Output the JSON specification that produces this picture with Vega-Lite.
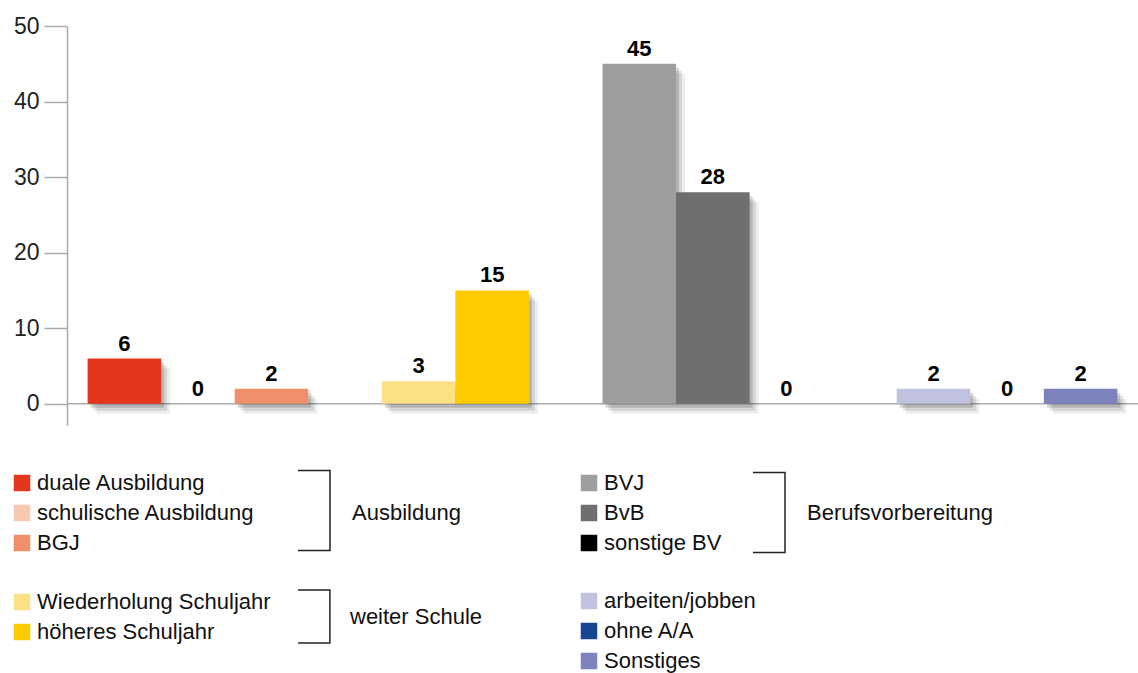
{
  "$schema": "https://vega.github.io/schema/vega-lite/v6.json",
  "width": 1071,
  "height": 399,
  "autosize": "none",
  "padding": {"left": 67, "top": 26, "right": 0, "bottom": 248},
  "background": "white",
  "config": {
    "view": {"stroke": null},
    "font": "Liberation Sans",
    "legend": {
      "orient": "none",
      "padding": 0,
      "symbolType": "square",
      "symbolSize": 272,
      "symbolStrokeWidth": 0,
      "labelFontSize": 22,
      "labelColor": "#111111",
      "labelFont": "Liberation Sans",
      "labelOffset": 4,
      "rowPadding": 8,
      "titleFontSize": 22,
      "titleFontWeight": "normal",
      "titleColor": "#111111",
      "titleFont": "Liberation Sans",
      "titleOrient": "right",
      "titleAnchor": "middle",
      "titleBaseline": "middle",
      "titleLimit": 400,
      "labelLimit": 400
    }
  },
  "data": {
    "values": [
      {"cat": "duale Ausbildung", "group": "Ausbildung", "value": 6},
      {"cat": "schulische Ausbildung", "group": "Ausbildung", "value": 0},
      {"cat": "BGJ", "group": "Ausbildung", "value": 2},
      {"cat": "Wiederholung Schuljahr", "group": "weiter Schule", "value": 3},
      {"cat": "höheres Schuljahr", "group": "weiter Schule", "value": 15},
      {"cat": "BVJ", "group": "Berufsvorbereitung", "value": 45},
      {"cat": "BvB", "group": "Berufsvorbereitung", "value": 28},
      {"cat": "sonstige BV", "group": "Berufsvorbereitung", "value": 0},
      {"cat": "arbeiten/jobben", "group": "Sonstiges", "value": 2},
      {"cat": "ohne A/A", "group": "Sonstiges", "value": 0},
      {"cat": "Sonstiges", "group": "Sonstiges", "value": 2}
    ]
  },
  "layer": [
    {
      "data": {"values": [{}]},
      "mark": {"type": "rule", "color": "#ababab", "strokeWidth": 1.5},
      "encoding": {"y": {"datum": 0, "type": "quantitative", "scale": {"domain": [-2.8, 50], "nice": false, "zero": false}}}
    },
    {
      "mark": {"type": "bar", "color": "#000000", "opacity": 0.15, "xOffset": 3, "x2Offset": 3, "yOffset": 4, "y2Offset": 4},
      "encoding": {
        "x": {"field": "cat", "type": "nominal", "sort": null, "axis": null, "scale": {"domain": ["duale Ausbildung", "schulische Ausbildung", "BGJ", " ", "Wiederholung Schuljahr", "höheres Schuljahr", "  ", "BVJ", "BvB", "sonstige BV", "   ", "arbeiten/jobben", "ohne A/A", "Sonstiges"], "paddingInner": 0, "paddingOuter": 0.28}},
        "y": {"field": "value", "type": "quantitative"},
        "y2": {"datum": 0}
      }
    },
    {
      "mark": {"type": "bar", "color": "#000000", "opacity": 0.1, "xOffset": 6, "x2Offset": 6, "yOffset": 7, "y2Offset": 7},
      "encoding": {
        "x": {"field": "cat", "type": "nominal", "sort": null, "axis": null},
        "y": {"field": "value", "type": "quantitative"},
        "y2": {"datum": 0}
      }
    },
    {
      "mark": {"type": "bar", "color": "#000000", "opacity": 0.07, "xOffset": 9, "x2Offset": 9, "yOffset": 10, "y2Offset": 10},
      "encoding": {
        "x": {"field": "cat", "type": "nominal", "sort": null, "axis": null},
        "y": {"field": "value", "type": "quantitative"},
        "y2": {"datum": 0}
      }
    },
    {
      "transform": [{"filter": "datum.group === 'Ausbildung'"}],
      "mark": {"type": "bar"},
      "encoding": {
        "x": {"field": "cat", "type": "nominal", "sort": null, "axis": null},
        "y": {"field": "value", "type": "quantitative", "axis": {"values": [0, 10, 20, 30, 40, 50], "grid": false, "title": null, "domainColor": "#ababab", "domainWidth": 1.5, "tickColor": "#ababab", "tickWidth": 1.5, "tickSize": 23, "labelFontSize": 23, "labelColor": "#222222", "labelPadding": 5, "labelFont": "Liberation Sans"}},
        "y2": {"datum": 0},
        "color": {"field": "cat", "type": "nominal", "scale": {"domain": ["duale Ausbildung", "schulische Ausbildung", "BGJ"], "range": ["#E3361A", "#F8C9B1", "#F0906A"]}, "legend": {"title": "Ausbildung", "titlePadding": 97, "legendX": -56, "legendY": 446}}
      }
    },
    {
      "transform": [{"filter": "datum.group === 'weiter Schule'"}],
      "mark": {"type": "bar"},
      "encoding": {
        "x": {"field": "cat", "type": "nominal", "sort": null, "axis": null},
        "y": {"field": "value", "type": "quantitative"},
        "y2": {"datum": 0},
        "color": {"field": "cat", "type": "nominal", "scale": {"domain": ["Wiederholung Schuljahr", "höheres Schuljahr"], "range": ["#FDDF85", "#FFCA00"]}, "legend": {"title": "weiter Schule", "titlePadding": 79, "legendX": -56, "legendY": 565}}
      }
    },
    {
      "transform": [{"filter": "datum.group === 'Berufsvorbereitung'"}],
      "mark": {"type": "bar"},
      "encoding": {
        "x": {"field": "cat", "type": "nominal", "sort": null, "axis": null},
        "y": {"field": "value", "type": "quantitative"},
        "y2": {"datum": 0},
        "color": {"field": "cat", "type": "nominal", "scale": {"domain": ["BVJ", "BvB", "sonstige BV"], "range": ["#9D9EA0", "#6F6F71", "#000000"]}, "legend": {"title": "Berufsvorbereitung", "titlePadding": 86, "legendX": 511, "legendY": 446}}
      }
    },
    {
      "transform": [{"filter": "datum.group === 'Sonstiges'"}],
      "mark": {"type": "bar"},
      "encoding": {
        "x": {"field": "cat", "type": "nominal", "sort": null, "axis": null},
        "y": {"field": "value", "type": "quantitative"},
        "y2": {"datum": 0},
        "color": {"field": "cat", "type": "nominal", "scale": {"domain": ["arbeiten/jobben", "ohne A/A", "Sonstiges"], "range": ["#C1C2E0", "#164594", "#7C82BB"]}, "legend": {"title": null, "legendX": 511, "legendY": 564}}
      }
    },
    {
      "transform": [{"filter": "datum.group === 'Ausbildung'"}],
      "mark": {"type": "point", "opacity": 0, "color": "#222222", "filled": false},
      "encoding": {
        "x": {"field": "cat", "type": "nominal", "sort": null, "axis": null},
        "y": {"field": "value", "type": "quantitative"},
        "shape": {"field": "group", "type": "nominal", "scale": {"domain": ["Ausbildung"], "range": ["M-0.4,-1H0.4V1H-0.4"]}, "legend": {"title": null, "labelExpr": "''", "labelOffset": 0, "symbolSize": 6400, "symbolOpacity": 1, "symbolStrokeColor": "#222222", "symbolFillColor": "transparent", "symbolStrokeWidth": 1.5, "legendX": 206, "legendY": 443.5}}
      }
    },
    {
      "transform": [{"filter": "datum.group === 'weiter Schule'"}],
      "mark": {"type": "point", "opacity": 0, "color": "#222222", "filled": false},
      "encoding": {
        "x": {"field": "cat", "type": "nominal", "sort": null, "axis": null},
        "y": {"field": "value", "type": "quantitative"},
        "shape": {"field": "group", "type": "nominal", "scale": {"domain": ["weiter Schule"], "range": ["M-0.6,-1H0.6V1H-0.6"]}, "legend": {"title": null, "labelExpr": "''", "labelOffset": 0, "symbolSize": 2809, "symbolOpacity": 1, "symbolStrokeColor": "#222222", "symbolFillColor": "transparent", "symbolStrokeWidth": 1.5, "legendX": 219.5, "legendY": 563}}
      }
    },
    {
      "transform": [{"filter": "datum.group === 'Berufsvorbereitung'"}],
      "mark": {"type": "point", "opacity": 0, "color": "#222222", "filled": false},
      "encoding": {
        "x": {"field": "cat", "type": "nominal", "sort": null, "axis": null},
        "y": {"field": "value", "type": "quantitative"},
        "shape": {"field": "group", "type": "nominal", "scale": {"domain": ["Berufsvorbereitung"], "range": ["M-0.4,-1H0.4V1H-0.4"]}, "legend": {"title": null, "labelExpr": "''", "labelOffset": 0, "symbolSize": 6400, "symbolOpacity": 1, "symbolStrokeColor": "#222222", "symbolFillColor": "transparent", "symbolStrokeWidth": 1.5, "legendX": 661, "legendY": 445.5}}
      }
    },
    {
      "mark": {"type": "text", "fontWeight": "bold", "fontSize": 22, "color": "#000000", "baseline": "alphabetic", "dy": -8, "font": "Liberation Sans"},
      "encoding": {
        "x": {"field": "cat", "type": "nominal", "sort": null, "axis": null},
        "y": {"field": "value", "type": "quantitative"},
        "text": {"field": "value", "type": "quantitative"}
      }
    }
  ],
  "resolve": {"scale": {"color": "independent", "shape": "independent"}}
}
